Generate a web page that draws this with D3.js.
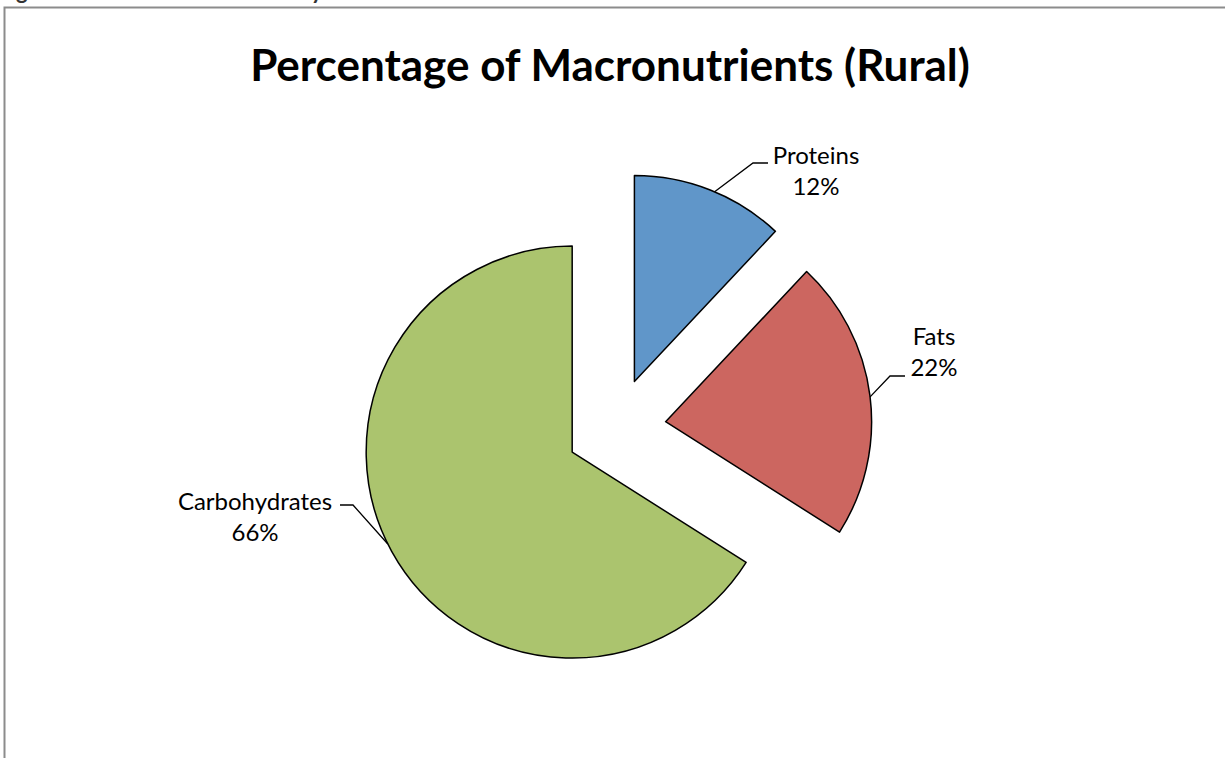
<!DOCTYPE html>
<html>
<head>
<meta charset="utf-8">
<script src="https://cdn.jsdelivr.net/npm/d3@7"></script>
<style>
  html, body { margin: 0; padding: 0; background: #fff; }
  svg { display: block; }
  text { font-family: Lato, "Open Sans", sans-serif; fill: #000; }
</style>
</head>
<body>
<div id="chart"></div>
<script>
const categories = ['Proteins', 'Fats', 'Carbohydrates'];
const values = [12, 22, 66];
const colors = ['#6096c9', '#cc6660', '#abc46e'];
const title = 'Percentage of Macronutrients (Rural)';

const width = 1225, height = 758;
const cx = 616, cy = 428, radius = 206, explode = 50;

const svg = d3.select('#chart').append('svg')
  .attr('width', width)
  .attr('height', height);

// caption glyphs of the page above, cut by the top edge
svg.append('text').attr('x', 16).attr('y', -1).style('font-size', '22px').style('font-weight', 'bold').style('fill', '#333').text('g');
svg.append('text').attr('x', 311).attr('y', -1).style('font-size', '22px').style('font-weight', 'bold').style('fill', '#333').text('y');

// chart frame
svg.append('path')
  .attr('d', `M4.5,${height} V7.5 H${width}`)
  .attr('fill', 'none')
  .attr('stroke', '#8c8c8c')
  .attr('stroke-width', 2);

svg.append('text')
  .attr('x', 610)
  .attr('y', 81)
  .attr('text-anchor', 'middle')
  .style('font-size', '44px')
  .style('font-weight', 'bold')
  .text(title);

const data = categories.map((c, i) => ({ name: c, value: values[i], color: colors[i] }));

const pie = d3.pie().value(d => d.value).sort(null);
const arcs = pie(data);
const arc = d3.arc().innerRadius(0).outerRadius(radius);

const offset = d => {
  const a = (d.startAngle + d.endAngle) / 2;
  return [Math.sin(a) * explode, -Math.cos(a) * explode];
};

const g = svg.append('g').attr('transform', `translate(${cx},${cy})`);

g.selectAll('path.slice')
  .data(arcs)
  .enter().append('path')
  .attr('class', 'slice')
  .attr('transform', d => `translate(${offset(d)})`)
  .attr('d', arc)
  .attr('fill', d => d.data.color)
  .attr('stroke', '#000')
  .attr('stroke-width', 1.5)
  .attr('stroke-linejoin', 'round');

// label positions (relative to pie centre), leader elbow/end and the angle where the leader meets the arc
const labelPos = {
  Proteins: { x: 200, y: -264, elbow: [137, -265], end: [152, -265], edgeAngle: 0.40 },
  Fats: { x: 318, y: -83, elbow: [274, -52], end: [289, -52], edgeAngle: 1.45 },
  Carbohydrates: { x: -361, y: 82, elbow: [-263, 77], end: [-276, 77], edgeAngle: 4.25 }
};

arcs.forEach(d => {
  const p = labelPos[d.data.name];
  const [ox, oy] = offset(d);
  const ex = ox + Math.sin(p.edgeAngle) * radius;
  const ey = oy - Math.cos(p.edgeAngle) * radius;
  g.append('path')
    .attr('d', `M${ex},${ey} L${p.elbow[0]},${p.elbow[1]} L${p.end[0]},${p.end[1]}`)
    .attr('fill', 'none')
    .attr('stroke', '#000')
    .attr('stroke-width', 1.3);
  const t = g.append('text')
    .attr('text-anchor', 'middle')
    .style('font-size', '24px');
  t.append('tspan').attr('x', p.x).attr('y', p.y).text(d.data.name);
  t.append('tspan').attr('x', p.x).attr('y', p.y + 31).text(d.data.value + '%');
});
</script>
</body>
</html>
